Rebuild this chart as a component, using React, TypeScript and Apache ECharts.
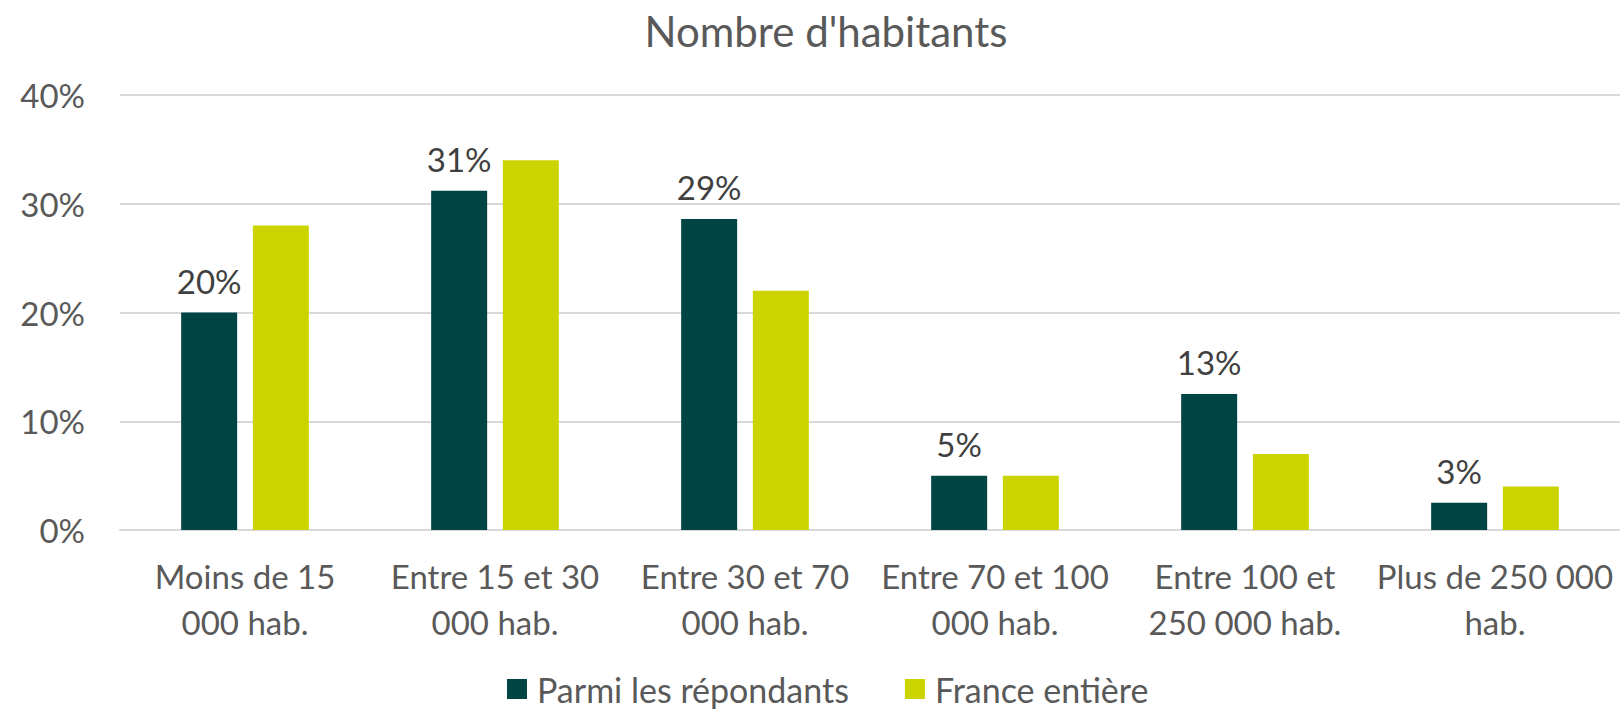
import React, { useEffect, useRef } from "react";
import * as echarts from "echarts";

const categories = [
  "Moins de 15\n000 hab.",
  "Entre 15 et 30\n000 hab.",
  "Entre 30 et 70\n000 hab.",
  "Entre 70 et 100\n000 hab.",
  "Entre 100 et\n250 000 hab.",
  "Plus de 250 000\nhab.",
];
const respondents = [20, 31.2, 28.6, 5, 12.5, 2.5];
const france = [28, 34, 22, 5, 7, 4];
const seriesNames = ["Parmi les répondants", "France entière"];
const titleText = "Nombre d'habitants";

const FONT = "Lato, 'Noto Sans', sans-serif";

export default function App() {
  const ref = useRef<HTMLDivElement>(null);
  useEffect(() => {
    if (!ref.current) return;
    const chart = echarts.init(ref.current, undefined, { renderer: "svg" });
    chart.setOption({
      animation: false,
      backgroundColor: "#ffffff",
      textStyle: { fontFamily: FONT },
      graphic: [
        {
          type: "text",
          x: 826,
          y: 31,
          style: {
            text: titleText,
            fill: "#595959",
            font: `42px ${FONT}`,
            textAlign: "center",
            textVerticalAlign: "middle",
          },
        },
      ],
      legend: {
        left: 507,
        top: 671,
        padding: 0,
        itemWidth: 20,
        itemHeight: 20,
        itemGap: 56,
        icon: "rect",
        textStyle: {
          fontSize: 34,
          color: "#595959",
          fontFamily: FONT,
          lineHeight: 36,
          padding: [0, 0, 0, 5],
        },
        data: seriesNames,
      },
      grid: { left: 120, right: 0, top: 95, bottom: 179, containLabel: false },
      xAxis: {
        type: "category",
        data: categories,
        axisTick: { show: false },
        axisLine: { lineStyle: { color: "#d9d9d9", width: 2 } },
        axisLabel: {
          fontSize: 33,
          color: "#595959",
          fontFamily: FONT,
          lineHeight: 46,
          margin: 23,
          interval: 0,
        },
      },
      yAxis: {
        type: "value",
        min: 0,
        max: 40,
        interval: 10,
        axisLine: { show: false },
        axisTick: { show: false },
        splitLine: { lineStyle: { color: "#d9d9d9", width: 2 } },
        axisLabel: {
          formatter: "{value}%",
          fontSize: 33,
          color: "#595959",
          fontFamily: FONT,
          margin: 35,
        },
      },
      series: [
        {
          name: seriesNames[0],
          type: "bar",
          data: respondents,
          barWidth: 56,
          barGap: "28%",
          itemStyle: { color: "#014444" },
          label: {
            show: true,
            position: "top",
            distance: 12,
            fontSize: 33,
            lineHeight: 40,
            color: "#404040",
            fontFamily: FONT,
            formatter: (p: any) => Math.round(p.value) + "%",
          },
        },
        {
          name: seriesNames[1],
          type: "bar",
          data: france,
          barWidth: 56,
          itemStyle: { color: "#ccd400" },
        },
      ],
    });
    return () => chart.dispose();
  }, []);
  return (
    <div
      ref={ref}
      style={{ position: "fixed", left: 0, top: 0, width: 1620, height: 709 }}
    />
  );
}
